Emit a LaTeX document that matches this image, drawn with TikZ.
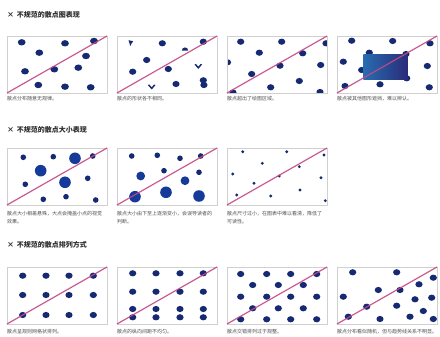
\documentclass[tikz,border=0pt]{standalone}
\usepackage{fontspec}
\setmainfont{Noto Sans CJK SC}
\usetikzlibrary{positioning}
\definecolor{DotNavy}{RGB}{22,42,116}
\definecolor{DotBlue}{RGB}{22,58,154}
\definecolor{LinePink}{RGB}{196,74,132}
\definecolor{FrameGray}{RGB}{208,208,208}
\definecolor{TitleGray}{RGB}{45,45,45}
\definecolor{CapGray}{RGB}{80,80,80}
\definecolor{BoxBlue}{RGB}{40,108,176}
\definecolor{BoxNavy}{RGB}{42,44,122}

\begin{document}
\begin{tikzpicture}[x=1pt, y=-1pt,
  frm/.style={draw=FrameGray, line width=0.8pt},
  dt/.style={fill=DotNavy},
  dtb/.style={fill=DotBlue},
  ln/.style={draw=LinePink, line width=1.2pt, opacity=0.9},
  ttl/.style={anchor=west, inner sep=0pt, text=TitleGray,
              font=\fontsize{7}{8}\selectfont\bfseries},
  captxt/.style={anchor=west, inner sep=0pt, text=CapGray,
              font=\fontsize{5}{8}\selectfont},
  captwo/.style={anchor=north west, inner sep=0pt, text=CapGray, align=left,
              font=\fontsize{5}{8}\selectfont}
]
  \useasboundingbox[fill=white] (0,0) rectangle (440,337);

  % ---- 第一组：形状 ----
  \node[ttl] (t1) at (7,15) {×\, 不规范的散点图表现};

  \begin{scope}[shift={(7,36)}]
    \draw[frm] (0,0) rectangle (100,57);
    \foreach \x/\y in {14.7/6.3, 58/7.3, 87/5, 32.3/16.7, 79/20, 18/35.3,
                       47.3/33.3, 71.3/31.7, 31.3/49, 58/50.7, 83.7/51.3}
      \fill[dt] (\x,\y) ellipse (3.9 and 3.2);
    \draw[ln] (0,57) -- (100,0);
  \end{scope}
  \node[captxt] (c11) at (7,99) {散点分布随意无规律。};

  \begin{scope}[shift={(117,36)}]
    \draw[frm] (0,0) rectangle (100,57);
    \foreach \x/\y in {45.3/7.3, 86.3/5.7, 29.7/24, 15.7/35.7, 51.3/33,
                       59/48, 86.3/44.3, 86.9/49}
      \fill[dt] (\x,\y) ellipse (3.6 and 3.1);
    % 不一致的形状
    \fill[dt] (11.5,4.2) -- (16.2,5.2) -- (14.6,7.4) -- (13.4,10) -- (12.4,7.2) -- cycle;
    \fill[dt] (64.8,14.6) arc[start angle=180, end angle=360, radius=3.2] -- cycle;
    \foreach \x/\y in {81.3/30.7, 34.7/51.3}
      \fill[dt, shift={(\x,\y)}] (-3.8,-2.2) -- (0,2.2) -- (3.8,-2.2) -- (2.4,-2.8)
        -- (0,0) -- (-2.4,-2.8) -- cycle;
    \draw[ln] (0,57) -- (100,0);
  \end{scope}
  \node[captxt] (c12) at (117,99) {散点的形状各不相同。};

  \begin{scope}[shift={(227,36)}]
    \begin{scope}
      \clip (0,0) rectangle (100,57);
      \foreach \x/\y in {13.7/5.7, 54.7/5.7, 99/7.3, 32.3/16.7, 75.7/17.3,
                         0.5/26.3, 53/29.7, 93.7/29, 24.7/38, 72.3/45,
                         43.7/51.3, 6/56.5, 93/56}
        \fill[dt] (\x,\y) ellipse (3.6 and 3.1);
    \end{scope}
    \draw[frm] (0,0) rectangle (100,57);
    \draw[ln] (0,57) -- (100,0);
  \end{scope}
  \node[captxt] (c13) at (227,99) {散点超出了绘图区域。};

  \begin{scope}[shift={(337,36)}]
    \draw[frm] (0,0) rectangle (100,57);
    \foreach \x/\y in {14.7/4.7, 55.7/5, 93/7.3, 6.3/25.7, 32.3/16.7, 69/18,
                       24.7/34, 90.3/30, 69.7/42.3, 43/48.3, 8/50, 92.3/51.3}
      \fill[dt] (\x,\y) ellipse (3.6 and 3.1);
    % 遮挡散点的色块
    \shade[left color=BoxBlue, right color=BoxNavy] (26.3,18.5) rectangle (70.3,43.3);
    \draw[ln] (0,57) -- (100,0);
  \end{scope}
  \node[captxt] (c14) at (337,99) {散点被其他图形遮挡，难以辨认。};

  % ---- 第二组：大小 ----
  \node[ttl] (t2) at (7,130) {×\, 不规范的散点大小表现};

  \begin{scope}[shift={(7,148)}]
    \draw[frm] (0,0) rectangle (100,57);
    \foreach \x/\y in {16.3/9.3, 46.3/8.7, 85.7/8, 80.7/30.3, 18.3/36.3,
                       36.3/51.3, 59/48.7, 88.7/52}
      \fill[dt] (\x,\y) circle (2.8);
    \foreach \x/\y in {68/10.3, 33.7/22.7, 58/34.3}
      \fill[dtb] (\x,\y) circle (5.8);
    \draw[ln] (0,57) -- (100,0);
  \end{scope}
  \node[captwo] (c21) at (7,211) {散点大小相差悬殊，大点会掩盖小点的视觉\\效果。};

  \begin{scope}[shift={(117,148)}]
    \draw[frm] (0,0) rectangle (100,57);
    \foreach \x/\y in {14.7/8, 40.3/7.3, 63/10.3, 83.7/8, 47/22.7, 82/24.3}
      \fill[dt] (\x,\y) circle (2.8);
    \foreach \x/\y in {23.7/28, 68/32.7}
      \fill[dtb] (\x,\y) circle (4.4);
    \foreach \x/\y in {18/48.7, 49/44.3, 82/48}
      \fill[dtb] (\x,\y) circle (5.8);
    \draw[ln] (0,57) -- (100,0);
  \end{scope}
  \node[captwo] (c22) at (117,211) {散点大小由下至上逐渐变小，会误导读者的\\判断。};

  \begin{scope}[shift={(227,148)}]
    \draw[frm] (0,0) rectangle (100,57);
    \foreach \x/\y in {15.7/3.7, 59.7/3.7, 97/7, 35.3/15.3, 72.3/18.7, 5.7/26,
                       52.3/28, 94/29.7, 27/35.3, 73/42, 43.7/48, 9.7/47, 98.3/52.7}
      \fill[dt] (\x,\y) circle (1.6);
    \draw[ln] (0,57) -- (100,0);
  \end{scope}
  \node[captwo] (c23) at (227,211) {散点尺寸过小，在图表中难以看清，降低了\\可读性。};

  % ---- 第三组：排列 ----
  \node[ttl] (t3) at (7,245) {×\, 不规范的散点排列方式};

  \begin{scope}[shift={(7,267)}]
    \draw[frm] (0,0) rectangle (100,57);
    \foreach \x in {15.7, 39, 62, 86.3}
      \foreach \y in {8.7, 28, 48}
        \fill[dt] (\x,\y) ellipse (3.6 and 3.1);
    \draw[ln] (0,57) -- (100,0);
  \end{scope}
  \node[captxt] (c31) at (7,332) {散点呈规则网格状排列。};

  \begin{scope}[shift={(117,267)}]
    \draw[frm] (0,0) rectangle (100,57);
    \foreach \x in {15.7, 39, 63, 86.3}
      \foreach \y in {6.3, 24.7, 42, 50.3}
        \fill[dt] (\x,\y) ellipse (3.6 and 3.1);
    \draw[ln] (0,57) -- (100,0);
  \end{scope}
  \node[captxt] (c32) at (117,332) {散点的纵向间距不均匀。};

  \begin{scope}[shift={(227,267)}]
    \draw[frm] (0,0) rectangle (100,57);
    \foreach \x in {13.7, 39.7, 63.7, 89.7}
      \foreach \y in {7, 29.7, 52.3}
        \fill[dt] (\x,\y) ellipse (3.6 and 3.1);
    \foreach \x in {25.7, 51.3, 76.3}
      \foreach \y in {18, 41.3}
        \fill[dt] (\x,\y) ellipse (3.6 and 3.1);
    \draw[ln] (0,57) -- (100,0);
  \end{scope}
  \node[captxt] (c33) at (227,332) {散点交错排列过于规整。};

  \begin{scope}[shift={(337,267)}]
    \draw[frm] (0,0) rectangle (100,57);
    \foreach \x/\y in {15.7/5.3, 59.7/5.3, 96.3/10.7, 41.3/23, 63/23, 82/17.3,
                       6.3/29.7, 78/32.3, 94.7/30.7, 29.7/39.7, 59.7/38.7,
                       86.3/44, 11.3/49.7, 43/52, 73/49.7, 96.3/52}
      \fill[dt] (\x,\y) ellipse (3.6 and 3.1);
    \draw[ln] (0,57) -- (100,0);
  \end{scope}
  \node[captxt] (c34) at (337,332) {散点分布看似随机，但与趋势线关系不明显。};
\end{tikzpicture}
\end{document}
